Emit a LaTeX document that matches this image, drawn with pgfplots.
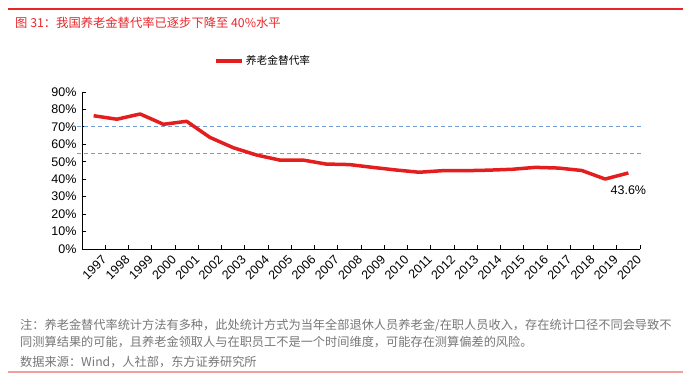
\documentclass[border=0pt]{standalone}
\usepackage{pgfplots}
\pgfplotsset{compat=1.18}
\usepackage{fontspec}
\setmainfont{Liberation Sans}
\newfontfamily\cjk{Noto Sans CJK SC}
\definecolor{titlered}{RGB}{232,38,42}
\definecolor{linered}{RGB}{228,30,30}
\definecolor{dashblue}{RGB}{110,160,215}
\definecolor{notegray}{RGB}{118,118,118}
\definecolor{pinkline}{RGB}{242,160,156}
\pgfplotstableread{
x year val
0.5 1997 76.4
1.5 1998 74.4
2.5 1999 77.4
3.5 2000 71.5
4.5 2001 73.2
5.5 2002 64.0
6.5 2003 58.1
7.5 2004 53.9
8.5 2005 51.0
9.5 2006 51.0
10.5 2007 48.7
11.5 2008 48.4
12.5 2009 46.8
13.5 2010 45.3
14.5 2011 44.0
15.5 2012 44.9
16.5 2013 44.9
17.5 2014 45.2
18.5 2015 45.7
19.5 2016 46.8
20.5 2017 46.4
21.5 2018 45.0
22.5 2019 40.1
23.5 2020 43.6
}\ratetable
\begin{document}
\begin{tikzpicture}
\path[use as bounding box] (0pt,0pt) rectangle (691pt,-381pt);
\draw[titlered, line width=1.3pt] (8pt,-9pt) -- (683pt,-9pt);
\node[anchor=base west, inner sep=0pt, text=titlered, font=\cjk\fontsize{12.3}{14}\selectfont] at (15pt,-27.5pt) {图 31：我国养老金替代率已逐步下降至 40\%水平};
\begin{axis}[
  at={(82pt,-249pt)}, anchor=south west,
  scale only axis, width=558pt, height=157pt,
  xmin=0, xmax=24, ymin=0, ymax=90,
  axis lines=left, axis line style={-, black, line width=0.8pt},
  clip=false,
  xtick={0.5,1.5,...,23.5},
  xticklabels={1997,1998,1999,2000,2001,2002,2003,2004,2005,2006,2007,2008,2009,2010,2011,2012,2013,2014,2015,2016,2017,2018,2019,2020},
  minor xtick={1,2,...,24},
  major x tick style={draw=none},
  minor tick length=4pt,
  x tick style={black, line width=0.8pt},
  xticklabel style={rotate=45, anchor=north east, font=\fontsize{12.5}{14}\selectfont, inner sep=0pt, yshift=-9pt, xshift=1.5pt},
  ytick={0,10,...,90},
  yticklabel={\pgfmathprintnumber{\tick}\%},
  y tick style={black, line width=0.8pt},
  major tick length=4pt,
  yticklabel style={font=\fontsize{12.5}{14}\selectfont, xshift=-2pt},
  /pgf/number format/assume math mode=true,
  tick align=inside,
  legend style={at={(0.325,1.197)}, anchor=center, draw=none, fill=none, font=\cjk\fontsize{10.7}{12}\selectfont, inner sep=0pt},
  legend image code/.code={\draw[#1] (0pt,0pt) -- (26pt,0pt);},
]
\addplot[dashblue, line width=0.8pt, dash pattern=on 4pt off 3pt, forget plot] coordinates {(-0.2,70) (24.05,70)};
\addplot[dashblue, line width=0.8pt, dash pattern=on 4pt off 3pt, forget plot] coordinates {(-0.2,55) (24.05,55)};
\addplot[linered, line width=3.5pt, line join=round, mark=none] table[x=x, y=val] {\ratetable};
\addlegendentry{养老金替代率}
\node[anchor=north, font=\fontsize{12.5}{14}\selectfont, inner sep=0pt] at (axis cs:23.5,43.6) [yshift=-13pt] {43.6\%};
\end{axis}
\node[anchor=base west, inner sep=0pt, text=notegray, font=\cjk\fontsize{12.2}{14}\selectfont] at (20pt,-329.5pt) {注：养老金替代率统计方法有多种，此处统计方式为当年全部退休人员养老金/在职人员收入，存在统计口径不同会导致不};
\node[anchor=base west, inner sep=0pt, text=notegray, font=\cjk\fontsize{12.2}{14}\selectfont] at (20pt,-346.5pt) {同测算结果的可能，且养老金领取人与在职员工不是一个时间维度，可能存在测算偏差的风险。};
\node[anchor=base west, inner sep=0pt, text=notegray, font=\cjk\fontsize{12.2}{14}\selectfont] at (20pt,-366pt) {数据来源：Wind，人社部，东方证券研究所};
\draw[pinkline, line width=2pt] (8pt,-372pt) -- (683pt,-372pt);
\end{tikzpicture}
\end{document}
